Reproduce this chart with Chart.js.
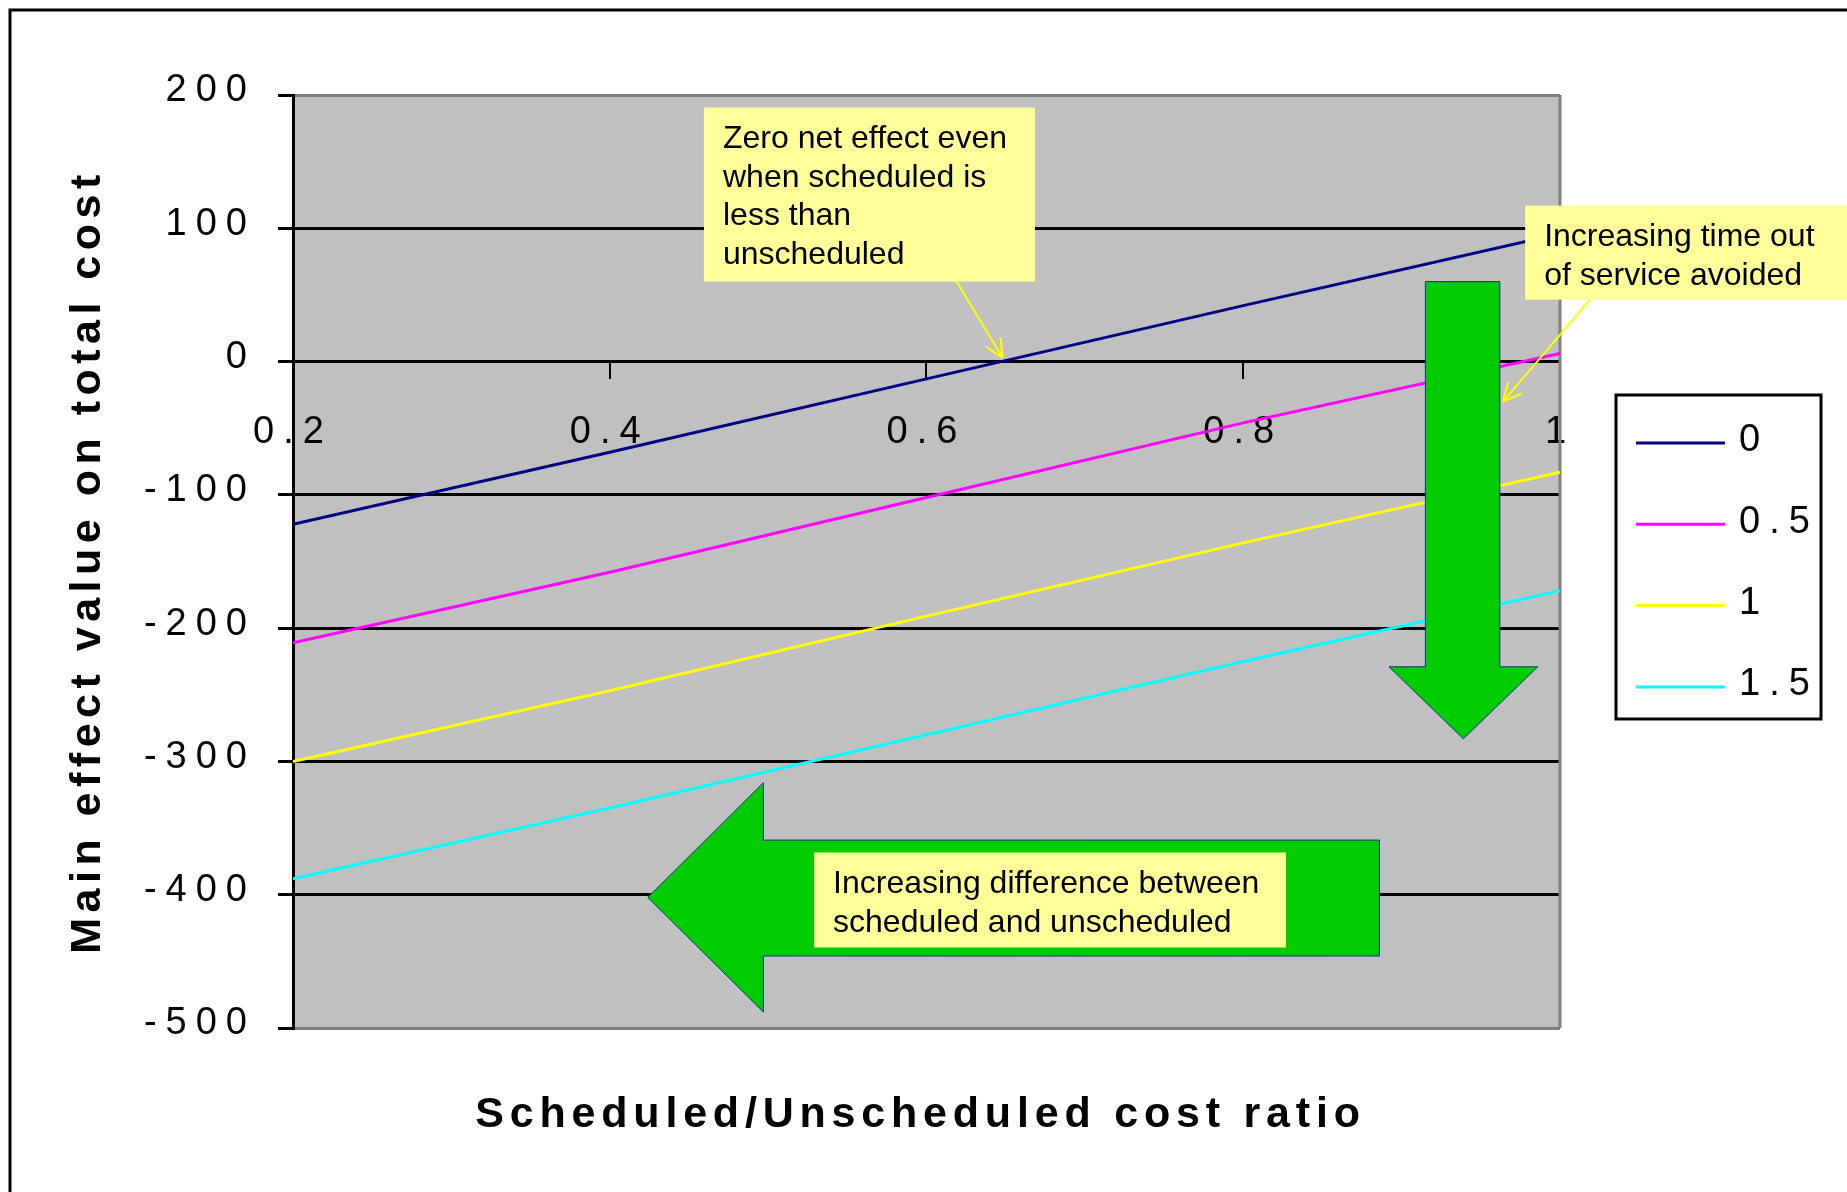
<!DOCTYPE html>
<html>
<head>
<meta charset="utf-8">
<title>Main effect value on total cost</title>
<script src="https://cdn.jsdelivr.net/npm/chart.js@4/dist/chart.umd.min.js"></script>
<style>
  html, body { margin: 0; padding: 0; background: #ffffff; }
  #wrap { width: 1847px; height: 1192px; }
</style>
</head>
<body>
<div id="wrap"><canvas id="chart" width="1847" height="1192"></canvas></div>
<script>
// ---- data ----
const ratios = [0.2, 0.4, 0.6, 0.8, 1.0];          // scheduled / unscheduled cost ratio
const seriesNames = ['0', '0.5', '1', '1.5'];
const effectSeries0 = [-122, -68, -13, 42, 96];
const effectSeries05 = [-211, -158, -102, -46, 6];
const effectSeries1 = [-300, -247, -191, -136, -83];
const effectSeries15 = [-388, -335, -280, -225, -172];
const xTickValues = [0.2, 0.4, 0.6, 0.8, 1];
const yTickValues = [200, 100, 0, -100, -200, -300, -400, -500];

// ---- styling ----
const FONT = "'Liberation Sans', Arial, Helvetica, sans-serif";
const seriesColors = ['#000080', '#FF00FF', '#FFFF00', '#00FFFF'];
const TICK_SPACING = '9px';
const TITLE_SPACING = { x: '5.8px', y: '5.5px' };
const X_TITLE_SHIFT = -6;
const PLOT_BG = '#C0C0C0';
const PLOT_EDGE = '#808080';
const NOTE_FILL = '#FFFF99';
const ARROW_FILL = '#00CC00';
const ARROW_EDGE = '#1a2f8f';

// Annotation shapes, in axis units (x = ratio, y = effect value)
const downArrowShape = [[0.915, 60], [0.962, 60], [0.962, -229], [0.986, -229], [0.939, -283], [0.892, -229], [0.915, -229]];
const leftArrowShape = [[0.886, -359], [0.497, -359], [0.497, -316], [0.424, -402], [0.497, -488], [0.497, -446], [0.886, -446]];
const notes = [
  { box: [0.4595, 190.6, 0.6685, 60], lines: ['Zero net effect even', 'when scheduled is', 'less than', 'unscheduled'],
    pointer: [0.619, 60, 0.648, 3] },
  { box: [0.978, 117, 1.2, 46.5], lines: ['Increasing time out', 'of service avoided'],
    pointer: [1.019, 46.5, 0.964, -30] },
  { box: [0.529, -368.3, 0.827, -439.6], lines: ['Increasing difference between', 'scheduled and unscheduled'] }
];

const seriesValues = [effectSeries0, effectSeries05, effectSeries1, effectSeries15];

Chart.defaults.font.family = FONT;
Chart.defaults.color = '#000';

// Plot background, outer frame, letter spacing for axis text
const framePlugin = {
  id: 'frame',
  afterLayout(chart) {
    const t = chart.scales.xTitle;
    t.left += X_TITLE_SHIFT;
    t.right += X_TITLE_SHIFT;
  },
  beforeDraw(chart) {
    const { ctx, chartArea: a, width, height } = chart;
    ctx.save();
    ctx.fillStyle = '#ffffff';
    ctx.fillRect(0, 0, width, height);
    ctx.strokeStyle = '#000';
    ctx.lineWidth = 3;
    ctx.beginPath();
    ctx.moveTo(10, height + 10);
    ctx.lineTo(10, 10);
    ctx.lineTo(width + 10, 10);
    ctx.stroke();
    ctx.fillStyle = PLOT_BG;
    ctx.fillRect(a.left, a.top, a.right - a.left, a.bottom - a.top);
    ctx.restore();

    Object.values(chart.scales).forEach(scale => {
      if (scale._spacedTitle) return;
      const drawTitle = scale.drawTitle;
      const spacing = scale.axis === 'y' ? TITLE_SPACING.y : TITLE_SPACING.x;
      scale.drawTitle = function () {
        const prev = this.ctx.letterSpacing;
        this.ctx.letterSpacing = spacing;
        drawTitle.call(this);
        this.ctx.letterSpacing = prev;
      };
      scale._spacedTitle = true;
    });
    ctx.letterSpacing = TICK_SPACING;
  },
  beforeDatasetsDraw(chart) {
    const { ctx, chartArea: a } = chart;
    ctx.save();
    ctx.strokeStyle = PLOT_EDGE;
    ctx.lineWidth = 3;
    ctx.beginPath();
    ctx.moveTo(a.right, a.top);
    ctx.lineTo(a.right, a.bottom);
    ctx.stroke();
    ctx.restore();
  }
};

// Arrows, notes and the boxed legend
const notesPlugin = {
  id: 'notes',
  afterDraw(chart) {
    const { ctx } = chart;
    const xs = chart.scales.x, ys = chart.scales.y;
    const px = v => xs.getPixelForValue(v);
    const py = v => ys.getPixelForValue(v);

    ctx.save();
    ctx.letterSpacing = '0px';

    [downArrowShape, leftArrowShape].forEach(shape => {
      ctx.beginPath();
      shape.forEach(([x, y], i) => (i ? ctx.lineTo(px(x), py(y)) : ctx.moveTo(px(x), py(y))));
      ctx.closePath();
      ctx.fillStyle = ARROW_FILL;
      ctx.fill();
      ctx.strokeStyle = ARROW_EDGE;
      ctx.lineWidth = 1;
      ctx.stroke();
    });

    notes.forEach(note => {
      const [x0, y0, x1, y1] = note.box;
      const L = px(x0), T = py(y0), R = px(x1), B = py(y1);
      ctx.fillStyle = NOTE_FILL;
      ctx.fillRect(L, T, R - L, B - T);
      ctx.fillStyle = '#000';
      ctx.font = '32px ' + FONT;
      ctx.textAlign = 'left';
      ctx.textBaseline = 'middle';
      note.lines.forEach((line, i) => ctx.fillText(line, L + 19, T + 32 + i * 38.5));

      if (note.pointer) {
        const [sx, sy, ex, ey] = note.pointer;
        const X0 = px(sx), Y0 = py(sy), X1 = px(ex), Y1 = py(ey);
        const ang = Math.atan2(Y1 - Y0, X1 - X0);
        ctx.strokeStyle = '#FFFF00';
        ctx.lineWidth = 2;
        ctx.beginPath();
        ctx.moveTo(X0, Y0);
        ctx.lineTo(X1, Y1);
        [-0.45, 0.45].forEach(d => {
          ctx.moveTo(X1, Y1);
          ctx.lineTo(X1 - 20 * Math.cos(ang + d), Y1 - 20 * Math.sin(ang + d));
        });
        ctx.stroke();
      }
    });

    // legend
    const box = { left: 1616, top: 395, right: 1821, bottom: 719 };
    ctx.fillStyle = '#fff';
    ctx.fillRect(box.left, box.top, box.right - box.left, box.bottom - box.top);
    ctx.strokeStyle = '#000';
    ctx.lineWidth = 3;
    ctx.strokeRect(box.left, box.top, box.right - box.left, box.bottom - box.top);
    ctx.letterSpacing = TICK_SPACING;
    ctx.font = '38px ' + FONT;
    ctx.textBaseline = 'middle';
    chart.data.datasets.forEach((ds, i) => {
      const y = 443 + i * 81.3;
      ctx.strokeStyle = ds.borderColor;
      ctx.lineWidth = 3;
      ctx.beginPath();
      ctx.moveTo(1636, y);
      ctx.lineTo(1725, y);
      ctx.stroke();
      ctx.fillStyle = '#000';
      ctx.fillText(ds.label, 1739, y - 2);
    });
    ctx.restore();
    ctx.letterSpacing = '0px';
  }
};

const edgeTick = v => v === 200 || v === -500;

new Chart(document.getElementById('chart').getContext('2d'), {
  type: 'line',
  data: {
    datasets: seriesValues.map((vals, i) => ({
      label: seriesNames[i],
      data: ratios.map((r, j) => ({ x: r, y: vals[j] })),
      borderColor: seriesColors[i],
      backgroundColor: seriesColors[i],
      borderWidth: 3,
      pointRadius: 0,
      tension: 0,
      fill: false,
      xAxisID: 'x',
      yAxisID: 'y'
    }))
  },
  options: {
    responsive: false,
    animation: false,
    devicePixelRatio: 1,
    events: [],
    layout: { padding: { left: 0, top: 95, right: 287, bottom: 0 } },
    plugins: { legend: { display: false }, tooltip: { enabled: false } },
    scales: {
      x: {
        type: 'linear',
        position: { y: 0 },
        min: 0.2,
        max: 1,
        afterBuildTicks: s => { s.ticks = xTickValues.map(v => ({ value: v })); },
        grid: { drawOnChartArea: false, drawTicks: true, tickLength: 16, color: '#000', lineWidth: 2 },
        border: { color: '#000', width: 3 },
        ticks: { font: { size: 38 }, color: '#000', padding: 32, maxRotation: 0, autoSkip: false,
                 callback: v => String(v) }
      },
      xTitle: {
        type: 'linear',
        position: 'bottom',
        grid: { display: false },
        border: { display: false },
        ticks: { display: false },
        title: { display: true, text: 'Scheduled/Unscheduled cost ratio', color: '#000',
                 font: { size: 43, weight: 'bold' }, padding: { top: 0, bottom: 51 } },
        afterFit: s => { s.height = 164; }
      },
      y: {
        type: 'linear',
        position: 'left',
        min: -500,
        max: 200,
        afterBuildTicks: s => { s.ticks = yTickValues.map(v => ({ value: v })); },
        grid: {
          color: c => (c.tick && edgeTick(c.tick.value)) ? PLOT_EDGE : '#000',
          lineWidth: 3,
          tickColor: '#000',
          tickWidth: 3,
          tickLength: 15
        },
        border: { color: '#000', width: 3 },
        ticks: { font: { size: 38 }, color: '#000', padding: 22, labelOffset: -4, autoSkip: false,
                 callback: v => String(v) },
        title: { display: true, text: 'Main effect value on total cost', color: '#000',
                 font: { size: 43, weight: 'bold' }, padding: { top: 62, bottom: 0 } },
        afterFit: s => { s.width = 293; }
      }
    }
  },
  plugins: [framePlugin, notesPlugin]
});
</script>
</body>
</html>
